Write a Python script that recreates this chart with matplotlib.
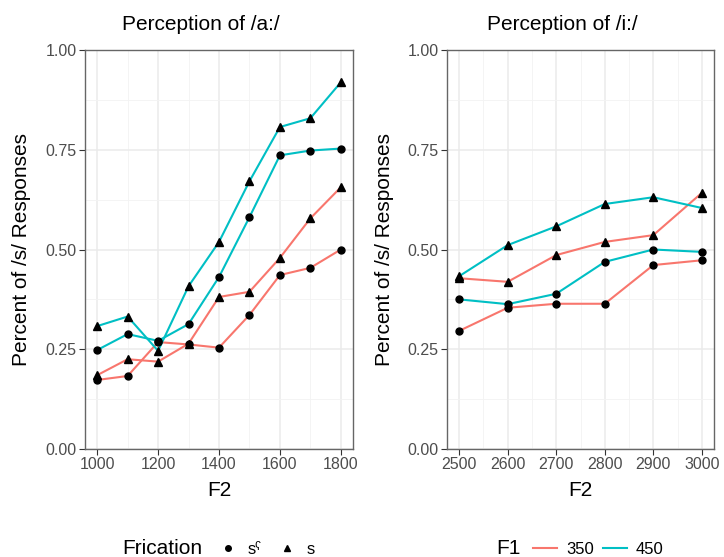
import matplotlib
matplotlib.use("Agg")
import matplotlib.pyplot as plt
from matplotlib.lines import Line2D
from matplotlib.ticker import MultipleLocator

plt.rcParams['font.family'] = ['Liberation Sans', 'DejaVu Sans']

RED = '#F8766D'
CYAN = '#00BFC4'

# Perception of /a:/
f2_a = [1000, 1100, 1200, 1300, 1400, 1500, 1600, 1700, 1800]
a_350_sq = [0.173, 0.183, 0.268, 0.262, 0.254, 0.336, 0.436, 0.454, 0.500]
a_350_s = [0.185, 0.225, 0.219, 0.264, 0.381, 0.394, 0.479, 0.578, 0.656]
a_450_sq = [0.248, 0.288, 0.271, 0.313, 0.431, 0.581, 0.736, 0.748, 0.753]
a_450_s = [0.308, 0.332, 0.246, 0.408, 0.519, 0.671, 0.807, 0.829, 0.919]

# Perception of /i:/
f2_i = [2500, 2600, 2700, 2800, 2900, 3000]
i_350_sq = [0.296, 0.354, 0.364, 0.364, 0.461, 0.473]
i_350_s = [0.428, 0.419, 0.486, 0.519, 0.536, 0.642]
i_450_sq = [0.375, 0.363, 0.389, 0.469, 0.500, 0.494]
i_450_s = [0.433, 0.511, 0.558, 0.614, 0.631, 0.604]

y_ticks = [0.00, 0.25, 0.50, 0.75, 1.00]
a_xticks = [1000, 1200, 1400, 1600, 1800]
i_xticks = [2500, 2600, 2700, 2800, 2900, 3000]

fig = plt.figure(figsize=(7.24, 5.57), dpi=100)
W, H = 724, 557


def fx(x):
    return x / W


def fy(y):
    return 1 - y / H


def px_axes(x0, x1, y0, y1):
    return fig.add_axes([fx(x0), fy(y1), (x1 - x0) / W, (y1 - y0) / H])


def style(ax, x, xticks, xminor):
    pad = (x[-1] - x[0]) * 0.05
    ax.set_xlim(x[0] - pad, x[-1] + pad)
    ax.set_ylim(0, 1)
    ax.set_xticks(xticks)
    ax.set_yticks(y_ticks)
    ax.set_yticklabels([f"{t:.2f}" for t in y_ticks])
    ax.xaxis.set_minor_locator(MultipleLocator(xminor))
    ax.yaxis.set_minor_locator(MultipleLocator(0.125))
    ax.grid(True, which='major', color='#EBEBEB', lw=1.1, zorder=0)
    ax.grid(True, which='minor', color='#F3F3F3', lw=0.6, zorder=0)
    ax.tick_params(which='minor', length=0)
    ax.tick_params(which='major', length=4, width=0.8, color='#333333',
                   labelsize=11.5, labelcolor='#4D4D4D', pad=2)
    for sp in ax.spines.values():
        sp.set_color('#666666')
        sp.set_linewidth(1.0)
    ax.set_axisbelow(True)


def draw(ax, x, series):
    for y, col, mk, ms in series:
        ax.plot(x, y, color=col, lw=1.5, zorder=2)
    for y, col, mk, ms in series:
        ax.plot(x, y, linestyle='none', marker=mk, color='black', ms=ms, zorder=3)


ax1 = px_axes(85, 353, 50, 449)
ax2 = px_axes(447, 714, 50, 449)

draw(ax1, f2_a, [(a_350_sq, RED, 'o', 5), (a_350_s, RED, '^', 5.5),
                 (a_450_sq, CYAN, 'o', 5), (a_450_s, CYAN, '^', 5.5)])
draw(ax2, f2_i, [(i_350_sq, RED, 'o', 5), (i_350_s, RED, '^', 5.5),
                 (i_450_sq, CYAN, 'o', 5), (i_450_s, CYAN, '^', 5.5)])

style(ax1, f2_a, a_xticks, 100)
style(ax2, f2_i, i_xticks, 50)

for title, cx, ylx, pcx in [("Perception of /a:/", 201, 22, 219),
                            ("Perception of /i:/", 562, 384, 580)]:
    fig.text(fx(cx), fy(25), title, ha='center', va='center', fontsize=15)
    fig.text(fx(pcx), fy(490), "F2", ha='center', va='center', fontsize=15)
    fig.text(fx(ylx), fy(250), "Percent of /s/ Responses", ha='center', va='center',
             rotation=90, fontsize=15)

# legends, placed by hand
ly = 548
fig.text(fx(122), fy(ly + 1), "Frication", ha='left', va='center', fontsize=15)
for x, mk, ms, lab, tx in [(228, 'o', 4, "s\u02e4", 248), (287, '^', 4.5, "s", 307)]:
    fig.add_artist(Line2D([fx(x)], [fy(ly)], transform=fig.transFigure,
                          linestyle='none', marker=mk, color='black', ms=ms))
    fig.text(fx(tx), fy(ly + 1), lab, ha='left', va='center', fontsize=12)

fig.text(fx(496), fy(ly + 1), "F1", ha='left', va='center', fontsize=15)
for x0, col, lab, tx in [(533, RED, "350", 566), (603, CYAN, "450", 636)]:
    fig.add_artist(Line2D([fx(x0), fx(x0 + 24)], [fy(ly), fy(ly)],
                          transform=fig.transFigure, color=col, lw=1.5))
    fig.text(fx(tx), fy(ly + 1), lab, ha='left', va='center', fontsize=12)

fig.savefig("out.png", dpi=100)
